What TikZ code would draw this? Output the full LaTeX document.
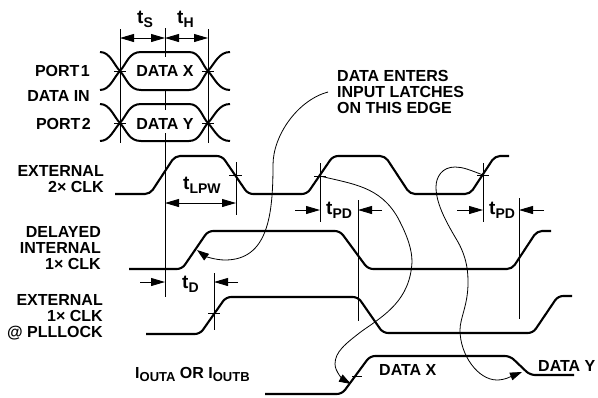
\documentclass[tikz,border=0pt]{standalone}
\usepackage{fontspec}
\setmainfont{Liberation Sans}[BoldFont={Liberation Sans Bold}]
\usetikzlibrary{arrows.meta}
\tikzset{
  wave/.style={line width=2.1pt,rounded corners=5pt,line cap=butt},
  eye/.style={line width=2pt},
  thinl/.style={line width=0.85pt},
  callout/.style={line width=0.8pt},
  dimarrow/.style={line width=0.85pt,{Triangle[length=14pt,width=8pt]}-{Triangle[length=14pt,width=8pt]}},
  onearrow/.style={line width=0.85pt,-{Triangle[length=14pt,width=8pt]}},
  curvearrow/.style={line width=0.8pt,-{Triangle[length=12pt,width=8pt]}},
  lab/.style={font=\fontsize{16}{16}\selectfont\bfseries,inner sep=0pt,text depth=0pt},
  rlab/.style={lab,anchor=base east},
  llab/.style={lab,anchor=base west},
  tlab/.style={lab,font=\fontsize{19}{19}\selectfont\bfseries,anchor=base west},
}
\newcommand{\sbs}[1]{{\fontsize{13}{13}\selectfont\raisebox{-3pt}{#1}}}
\newcommand{\tsb}[1]{t{\fontsize{14}{14}\selectfont\raisebox{-4.5pt}{#1}}}
\begin{document}
\begin{tikzpicture}[x=1pt,y=-1pt]
\useasboundingbox (0,0) rectangle (598,397);
% labels
\node[rlab] (p1) at (90,76) {PORT\kern-3pt\ 1};
\node[rlab] (din) at (90,101) {DATA IN};
\node[rlab] (p2) at (91,129) {PORT\kern-3pt\ 2};
\node[rlab] (e2a) at (104,176) {EXTERNAL};
\node[rlab] (e2b) at (104,192) {2× CLK};
\node[rlab] (d1) at (101,237) {DELAYED};
\node[rlab] (d2) at (101,253) {INTERNAL};
\node[rlab] (d3) at (101,269) {1× CLK};
\node[rlab] (x1) at (103,305) {EXTERNAL};
\node[rlab] (x2) at (103,321) {1× CLK};
\node[rlab] (x3) at (103,337) {@ PLLLOCK};
\node[llab] (iout) at (135,378) {I\sbs{OUTA} OR I\sbs{OUTB}};
\node[lab,anchor=base] (dx) at (165,76) {DATA X};
\node[lab,anchor=base] (dy) at (165,129) {DATA Y};
\node[llab] (ox) at (379,375) {DATA X};
\node[llab] (oy) at (538,371) {DATA Y};
\node[llab] (e1) at (337,81) {DATA ENTERS};
\node[llab] (e2) at (337,97) {INPUT LATCHES};
\node[llab] (e3) at (337,113) {ON THIS EDGE};
\node[tlab] (ts) at (137,23) {\tsb{S}};
\node[tlab] (th) at (177,23) {\tsb{H}};
\node[tlab] (tl) at (183,189) {\tsb{LPW}};
\node[tlab] (tp1) at (326,214) {\tsb{PD}};
\node[tlab] (tp2) at (489,214) {\tsb{PD}};
\node[tlab] (td) at (182,288) {\tsb{D}};
% eye patterns
\foreach \yt/\yc/\yb in {52/71/90,104/123/141}{
  \draw[eye] (100,\yt) .. controls (110,\yt) and (114,\yc-6) .. (120,\yc) .. controls (127,\yc+8) and (129,\yb) .. (141,\yb) -- (189,\yb) .. controls (200,\yb) and (202,\yc+6) .. (208,\yc) .. controls (215,\yc-8) and (219,\yt) .. (230,\yt);
  \draw[eye] (100,\yb) .. controls (110,\yb) and (114,\yc+6) .. (120,\yc) .. controls (127,\yc-8) and (129,\yt) .. (141,\yt) -- (189,\yt) .. controls (200,\yt) and (202,\yc-6) .. (208,\yc) .. controls (215,\yc+8) and (219,\yb) .. (230,\yb);
  \draw[thinl] (114,\yc) -- (126,\yc) (202,\yc) -- (214,\yc);
}
% waveforms
\draw[wave] (115,194) -- (150,194) -- (175,156) -- (222,156) -- (248,194) -- (307,194) -- (333,156) -- (385,156) -- (410,194) -- (470,194) -- (495,156) -- (509,156);
\draw[wave] (129,269) -- (182,269) -- (208,231) -- (340,231) -- (368,269) -- (512,269) -- (537,231) -- (551,231);
\draw[wave] (146,334) -- (200,334) -- (226,297) -- (358,297) -- (383,333) -- (533,333) -- (558,296) -- (572,296);
\draw[wave] (265,394) -- (342,394) -- (370,356) -- (510,356) -- (530,375) -- (574,375);
% vertical reference lines
\draw[thinl] (120,29) -- (120,143);
\draw[thinl] (208,29) -- (208,143);
\draw[thinl] (165,28) -- (165,57) (165,91) -- (165,110) (165,133) -- (165,297);
\draw[thinl] (236,162) -- (236,215) (229,175) -- (242,175);
\draw[thinl] (320,163) -- (320,222) (314,176) -- (326,176);
\draw[thinl] (358,200) -- (358,321);
\draw[thinl] (483,163) -- (483,222) (477,175) -- (489,175);
\draw[thinl] (519,198) -- (519,319);
\draw[thinl] (214,273) -- (214,330) (208,313) -- (220,313);
\draw[thinl] (352,376) -- (362,376);
% dimension arrows
\coordinate (a1) at (120,38); \coordinate (a2) at (165,38); \coordinate (a3) at (208,38);
\draw[dimarrow] (a1) -- (a2);
\draw[dimarrow] (a2) -- (a3);
\coordinate (b1) at (165,203); \coordinate (b2) at (236,203);
\draw[dimarrow] (b1) -- (b2);
\draw[onearrow] (295,210) -- (320,210);
\draw[onearrow] (382,210) -- (358,210);
\draw[onearrow] (457,210) -- (483,210);
\draw[onearrow] (544,210) -- (519,210);
\draw[onearrow] (140,282) -- (165,282);
\draw[onearrow] (238,282) -- (214,282);
% callout curves
\draw[curvearrow] (328,92) .. controls (298,100) and (273,135) .. (273,165)
  .. controls (273,215) and (268,260) .. (225,260)
  .. controls (215,260) and (205,256) .. (197,250);
\draw[curvearrow] (320,176) .. controls (352,184) and (380,186) .. (398,218)
  .. controls (408,237) and (412,250) .. (412,262)
  .. controls (410,300) and (385,315) .. (362,331)
  .. controls (345,344) and (335,352) .. (335,364)
  .. controls (335,372) and (344,380) .. (351,384);
\draw[curvearrow] (483,175) .. controls (470,170) and (463,167) .. (455,167)
  .. controls (442,167) and (436,177) .. (436,187)
  .. controls (436,205) and (448,225) .. (458,242)
  .. controls (468,260) and (468,275) .. (468,283)
  .. controls (468,305) and (460,318) .. (460,330)
  .. controls (460,355) and (478,380) .. (497,380)
  .. controls (505,380) and (512,376) .. (522,372);
\end{tikzpicture}
\end{document}
